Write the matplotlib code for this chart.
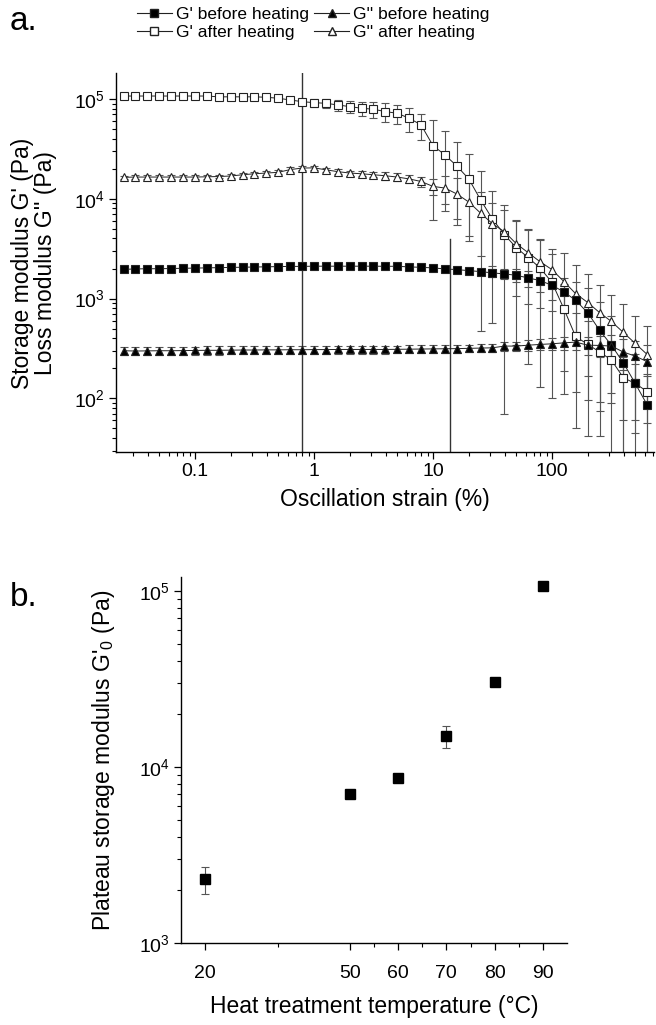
"""Strain sweep (a) and plateau modulus vs heat treatment temperature (b) -> out.png"""

import matplotlib

matplotlib.use("Agg")
import matplotlib.pyplot as plt
from matplotlib.lines import Line2D
from matplotlib.ticker import FixedLocator, LogLocator, NullFormatter, FixedFormatter

plt.rcParams["font.family"] = ["Liberation Sans", "DejaVu Sans"]
plt.rcParams["mathtext.fontset"] = "custom"
plt.rcParams["mathtext.rm"] = "Liberation Sans"
plt.rcParams["mathtext.it"] = "Liberation Sans:italic"
plt.rcParams["mathtext.bf"] = "Liberation Sans:bold"

# ---- a. oscillation strain sweep (%)
strain = [0.0251, 0.0316, 0.0398, 0.0501, 0.0631, 0.0794,
          0.1, 0.126, 0.158, 0.2, 0.251, 0.316, 0.398, 0.501, 0.631, 0.794,
          1.0, 1.26, 1.58, 2.0, 2.51, 3.16, 3.98, 5.01, 6.31, 7.94,
          10, 12.6, 15.8, 20, 25.1, 31.6, 39.8, 50.1, 63.1, 79.4,
          100, 126, 158, 200, 251, 316, 398, 501, 631]

g1_before = [1960, 1980, 1990, 1990, 2000, 2010, 2020, 2030, 2040, 2050, 2060,
             2070, 2080, 2090, 2100, 2100, 2110, 2110, 2110, 2110, 2110, 2110,
             2105, 2105, 2075, 2056, 2028, 1982, 1950, 1905, 1862, 1807, 1766,
             1710, 1610, 1514, 1358, 1166, 962, 719, 482, 341, 227, 141, 86]
g1_before_err = [60] * 22 + [70, 70, 80, 80, 90, 100, 100, 110, 130, 150, 200, 250,
                             300, 350, 400, 450, 500, 550, 440, 320, 215, 135, 82]

g2_before = [300, 298, 299, 300, 300, 301, 302, 303, 303, 304, 305, 305, 306, 306,
             307, 307, 308, 308, 309, 309, 309, 309,
             309, 310, 311, 312, 313, 314, 315, 317, 319, 321, 334, 334, 341, 347,
             352, 360, 366, 341, 339, 334, 291, 265, 233]
g2_before_err = [28] * 30 + [30, 32, 34, 36, 40, 45, 50, 55, 60, 70, 80, 95, 100, 110, 110]

g1_after = [107000, 107000, 107000, 107000, 107000, 107000, 107000, 107000,
            105000, 105000, 105000, 105000, 104000, 101600, 97700, 94000, 91800,
            90500, 87100, 83800, 80700, 78900,
            74700, 71900, 64100, 55000, 34100, 27500, 21400, 15800, 9770, 6270,
            4370, 3240, 2570, 2030, 1450, 789, 417, 347, 292, 242, 161, 141, 117]
g1_after_err = [4000] * 13 + [5000, 6000, 7000, 8000, 9000, 11000, 12000, 13000, 14000,
                              16000, 16000, 17000, 16000, 28000, 20000, 16000, 12000,
                              9300, 5700, 4300, 2900, 2350, 1900, 1350, 600, 300, 250,
                              200, 130, 100, 80, 60]

g2_after = [16400, 16500, 16500, 16500, 16500, 16500, 16500, 16600, 16700, 16900,
            17400, 17800, 18100, 18400, 19600, 20300, 20400, 19500, 18700, 18100,
            17800, 17400,
            17000, 16500, 15800, 14900, 13300, 12800, 11200, 9270, 7190, 5620, 4680,
            3550, 2880, 2340, 1950, 1480, 1120, 912, 724, 589, 457, 355, 275]
g2_after_err = [700] * 10 + [800, 800, 800, 900] + [1000] * 8 + [
    1500, 1500, 1500, 1800, 2500, 4000, 5000, 5000, 4500, 3500, 3000, 2500, 2000,
    1530, 1200, 1370, 1070, 870, 650, 500, 430, 310, 250]

LVE_LIMITS = [0.794, 14]

# ---- b. plateau storage modulus vs heat treatment temperature
temps = [20, 50, 60, 70, 80, 90]
g0 = [2300, 7000, 8700, 15000, 30500, 106500]
g0_err = [400, 250, 400, 2200, 1500, 3000]

W, H = 656, 1025
fig = plt.figure(figsize=(W / 100, H / 100), dpi=100)


def px_axes(l, t, r, b):
    return fig.add_axes([l / W, 1 - b / H, (r - l) / W, (b - t) / H])


def style(ax):
    for s in ("top", "right"):
        ax.spines[s].set_visible(False)
    for s in ("left", "bottom"):
        ax.spines[s].set_linewidth(1.0)
    ax.tick_params(which="major", direction="out", length=5, width=0.9,
                   labelsize=14, pad=3)
    ax.tick_params(which="minor", direction="out", length=2.8, width=0.8)


def log_labels(vals):
    return [f"$10^{{{len(str(int(v))) - 1}}}$" for v in vals]


# ---------------- panel a
ax = px_axes(116, 73, 654, 452)
series = [
    (g1_after, g1_after_err, "s", "white", 5.2),
    (g2_after, g2_after_err, "^", "white", 6.2),
    (g1_before, g1_before_err, "s", "black", 5.6),
    (g2_before, g2_before_err, "^", "black", 6.2),
]
for y, e, m, fc, ms in series:
    ax.errorbar(strain, y, yerr=e, fmt=m + "-", color="#222222", lw=0.7,
                ms=ms, mfc=fc, mec="#222222", mew=0.8, ecolor="#555555",
                elinewidth=0.8, capsize=2.6, capthick=0.8)

ax.set_xscale("log")
ax.set_yscale("log")
ax.set_xlim(0.0217, 720)
ax.set_ylim(29, 1.82e5)
ax.axvline(LVE_LIMITS[0], color="#333333", lw=1.0)
ax.axvline(LVE_LIMITS[1], ymax=0.562, color="#333333", lw=1.0)

xt = [0.1, 1, 10, 100]
ax.xaxis.set_major_locator(FixedLocator(xt))
ax.xaxis.set_major_formatter(FixedFormatter(["0.1", "1", "10", "100"]))
ax.xaxis.set_minor_locator(LogLocator(base=10, subs=range(2, 10), numticks=20))
ax.xaxis.set_minor_formatter(NullFormatter())
yt = [100, 1000, 10000, 100000]
ax.yaxis.set_major_locator(FixedLocator(yt))
ax.yaxis.set_major_formatter(FixedFormatter(log_labels(yt)))
ax.yaxis.set_minor_locator(LogLocator(base=10, subs=range(2, 10), numticks=20))
ax.yaxis.set_minor_formatter(NullFormatter())
style(ax)
ax.set_xlabel("Oscillation strain (%)", fontsize=16.5, labelpad=6)
fig.text(34 / W, 1 - 263 / H, "Storage modulus G' (Pa)\nLoss modulus G'' (Pa)",
         rotation=90, ha="center", va="center", fontsize=16.5, linespacing=1.0)

handles = [
    Line2D([], [], color="#222222", lw=0.8, marker="s", ms=5.6, mfc="black", mec="#222222"),
    Line2D([], [], color="#222222", lw=0.8, marker="s", ms=5.2, mfc="white", mec="#222222"),
    Line2D([], [], color="#222222", lw=0.8, marker="^", ms=6.2, mfc="black", mec="#222222"),
    Line2D([], [], color="#222222", lw=0.8, marker="^", ms=6.2, mfc="white", mec="#222222"),
]
labels = ["G' before heating", "G' after heating", "G'' before heating", "G'' after heating"]
fig.legend(handles, labels, ncol=2, loc="upper left", bbox_to_anchor=(137 / W, 1 - 7 / H),
           frameon=False, fontsize=12.5, handlelength=2.0, handletextpad=0.25,
           columnspacing=0.3, labelspacing=0.15, borderpad=0, borderaxespad=0)
fig.text(10 / W, 1 - 21 / H, "a.", fontsize=24, ha="left", va="center")

# ---------------- panel b
bx = px_axes(181, 577, 567, 943)
bx.errorbar(temps, g0, yerr=g0_err, fmt="s", ms=7, color="black", ecolor="#555555",
            elinewidth=0.8, capsize=2.6, capthick=0.8)
bx.set_yscale("log")
bx.set_xlim(15, 95)
bx.set_ylim(1000, 1.2e5)
bx.set_xticks(temps)
bx.set_xticklabels([str(t) for t in temps])
bx.set_xticks([35, 55, 65, 75, 85], minor=True)
yt2 = [1000, 10000, 100000]
bx.yaxis.set_major_locator(FixedLocator(yt2))
bx.yaxis.set_major_formatter(FixedFormatter(log_labels(yt2)))
bx.yaxis.set_minor_locator(LogLocator(base=10, subs=range(2, 10), numticks=20))
bx.yaxis.set_minor_formatter(NullFormatter())
style(bx)
bx.tick_params(axis="x", which="major", pad=11)
bx.set_xlabel("Heat treatment temperature (°C)", fontsize=16.5, labelpad=9)
bx.set_ylabel("Plateau storage modulus G'$_0$ (Pa)", fontsize=16.5, labelpad=16)
fig.text(10 / W, 1 - 597 / H, "b.", fontsize=24, ha="left", va="center")

fig.savefig("out.png", dpi=100)
